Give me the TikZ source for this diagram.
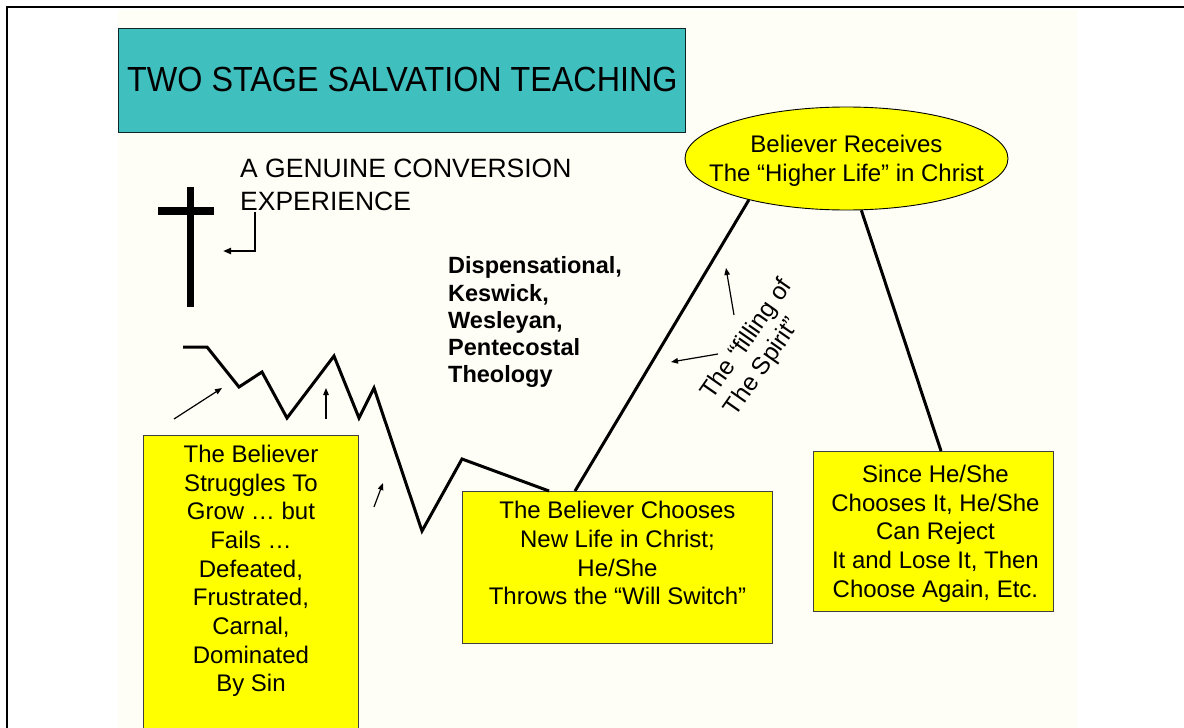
\documentclass[tikz,border=0pt]{standalone}
\usepackage{fontspec}
\setmainfont{Liberation Sans}
\usetikzlibrary{arrows.meta,shapes.geometric,calc}
\definecolor{cream}{RGB}{254,254,246}
\definecolor{teal1}{RGB}{64,191,191}
\definecolor{ylw}{RGB}{255,255,0}
\definecolor{bordergray}{RGB}{64,64,64}
\tikzset{
  ybox/.style={draw=bordergray, fill=ylw, line width=0.9pt, inner sep=0pt, anchor=north west},
  btxt/.style={font=\fontsize{24}{28.7}\selectfont, align=center, inner sep=0pt, anchor=north},
  zig/.style={line width=3pt, line join=miter},
  thinarrow/.style={line width=1.2pt, -{Triangle[length=7pt,width=5.5pt]}},
}
\begin{document}
\begin{tikzpicture}[x=1pt,y=-1pt]
\useasboundingbox (0,0) rectangle (1184,728);
\fill[white] (0,0) rectangle (1184,728);
\fill[cream] (118,10) rectangle (1077,728);
% frame
\draw[line width=1.7pt] (1184,7) -- (7,7) -- (7,728);

% title
\node[draw=black!80!teal1, fill=teal1, line width=0.9pt, anchor=north west,
      minimum width=567pt, minimum height=104pt, inner sep=0pt] (title) at (118,27.5) {};
\node[anchor=west, inner sep=0pt, font=\fontsize{32.3}{38}\selectfont] (titletxt) at (127,79.5)
      {\scalebox{1}[1.08]{TWO STAGE SALVATION TEACHING}};

% conversion text
\node[anchor=north west, inner sep=0pt, align=left, font=\fontsize{26.5}{33}\selectfont] (conv) at (240,159)
      {A GENUINE CONVERSION\\EXPERIENCE};

% cross
\fill (186.7,187) rectangle (194.3,307);
\fill (158,207) rectangle (214,215);
\coordinate (cvfoot) at (255,212);
\coordinate (crossarr) at (223,251);
\draw[line width=2pt, -{Triangle[length=8pt,width=6pt]}] (cvfoot) |- (crossarr);

% theology text
\node[anchor=north west, inner sep=0pt, align=left, font=\fontsize{23.5}{27.3}\selectfont\bfseries] (theo) at (448,256.5)
      {Dispensational,\\Keswick,\\Wesleyan,\\Pentecostal\\Theology};

% boxes
\node[ybox, minimum width=215pt, minimum height=310pt] (lbox) at (143,435) {};
\node[btxt] (ltxt) at ($(lbox.north)+(0,9.8)$)
      {The Believer\\Struggles To\\Grow … but\\Fails …\\Defeated,\\Frustrated,\\Carnal,\\Dominated\\By Sin};

\node[ybox, minimum width=310pt, minimum height=152pt] (mid) at (462,491) {};
\node[btxt] (mtxt) at ($(mid.north)+(0,10.1)$)
      {The Believer Chooses\\New Life in Christ;\\He/She\\Throws the “Will Switch”};

\node[ybox, minimum width=240pt, minimum height=160pt] (rbox) at (813,451) {};
\node[btxt] (rtxt) at ($(rbox.north)+(2,13.8)$)
      {Since He/She\\Chooses It, He/She\\Can Reject\\It and Lose It, Then\\Choose Again, Etc.};

% ellipse
\node[ellipse, draw=black, fill=ylw, line width=0.9pt, minimum width=323pt, minimum height=103pt,
      inner sep=0pt] (hl) at (846.5,158.5) {};
\node[align=center, inner sep=0pt, font=\fontsize{24}{28.7}\selectfont] (hltxt) at (846.5,161)
      {Believer Receives\\The “Higher Life” in Christ};

% zigzag
\draw[zig] (183,347) -- (207,347) -- (239,387) -- (262,372) -- (287,418) -- (334,356)
      -- (359,418) -- (374,388) -- (422,531) -- (462,459) -- ($(mid.north west)+(87,0)$);

% lines to ellipse
\draw[line width=3pt] ($(mid.north west)+(113,0)$) -- (hl.203.3);
\draw[line width=3pt] (hl.286.8) -- ($(rbox.north west)+(128,0)$);

% small arrows
\coordinate (a1s) at (174,419); \coordinate (a1e) at (222,388);
\coordinate (a2s) at (326,419); \coordinate (a2e) at (326,388);
\coordinate (a3s) at (374,507); \coordinate (a3e) at (383,483);
\coordinate (a4s) at (734,315); \coordinate (a4e) at (726,268);
\coordinate (a5s) at (718,354); \coordinate (a5e) at (671,362);
\draw[thinarrow] (a1s) -- (a1e);
\draw[thinarrow] (a2s) -- (a2e);
\draw[thinarrow] (a3s) -- (a3e);
\draw[thinarrow] (a4s) -- (a4e);
\draw[thinarrow] (a5s) -- (a5e);

% rotated text
\node[rotate=55, align=left, inner sep=0pt, font=\fontsize{24.5}{28.5}\selectfont] (spirit) at (759,348)
      {The “filling of\\The Spirit”};
\end{tikzpicture}
\end{document}
